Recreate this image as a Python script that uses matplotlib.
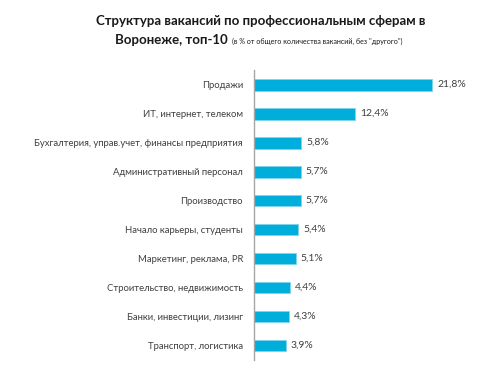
import matplotlib
matplotlib.use("Agg")
import matplotlib.pyplot as plt

categories = [
    "Продажи",
    "ИТ, интернет, телеком",
    "Бухгалтерия, управ.учет, финансы предприятия",
    "Административный персонал",
    "Производство",
    "Начало карьеры, студенты",
    "Маркетинг, реклама, PR",
    "Строительство, недвижимость",
    "Банки, инвестиции, лизинг",
    "Транспорт, логистика",
]
values = [21.8, 12.4, 5.8, 5.7, 5.7, 5.4, 5.1, 4.4, 4.3, 3.9]
value_labels = ["21,8%", "12,4%", "5,8%", "5,7%", "5,7%", "5,4%", "5,1%", "4,4%", "4,3%", "3,9%"]

FONT = "Lato"
BAR = "#00AEDB"
TXT = "#404040"

fig = plt.figure(figsize=(5, 3.73), dpi=100, facecolor="white")
ax = fig.add_axes([0.508, 0.035, 0.442, 0.777])

pos = list(range(len(categories)))
ax.barh(pos, values, height=0.41, color=BAR, edgecolor="#7fd3ea", linewidth=0.6)
ax.set_ylim(len(categories) - 0.5, -0.5)
ax.set_xlim(0, 27)
ax.set_yticks(pos)
ax.set_yticklabels(categories, fontsize=6.8, color=TXT, fontfamily=FONT)
ax.tick_params(axis="y", length=0, pad=8)
ax.set_xticks([])
for s in ("top", "right", "bottom"):
    ax.spines[s].set_visible(False)
ax.spines["left"].set_color("#a6a6a6")
ax.spines["left"].set_linewidth(1)

for p, v, lab in zip(pos, values, value_labels):
    ax.text(v + 0.6, p, lab, va="center", ha="left", fontsize=7.5,
            color=TXT, fontfamily=FONT)

fig.text(0.522, 0.945, "Структура вакансий по профессиональным сферам в",
         ha="center", va="center", fontsize=9.5, fontweight="bold",
         color="#1a1a1a", fontfamily=FONT)
t2 = fig.text(0.23, 0.892, "Воронеже, топ-10", ha="left", va="center",
              fontsize=9.5, fontweight="bold", color="#1a1a1a", fontfamily=FONT)
fig.canvas.draw()
bb = t2.get_window_extent()
fig.text((bb.x1 + 4) / fig.bbox.width, 0.888,
         '(в % от общего количества вакансий, без "другого")',
         ha="left", va="center", fontsize=5.1, color="#1a1a1a", fontfamily=FONT)

fig.savefig("out.png", dpi=100, facecolor="white")
